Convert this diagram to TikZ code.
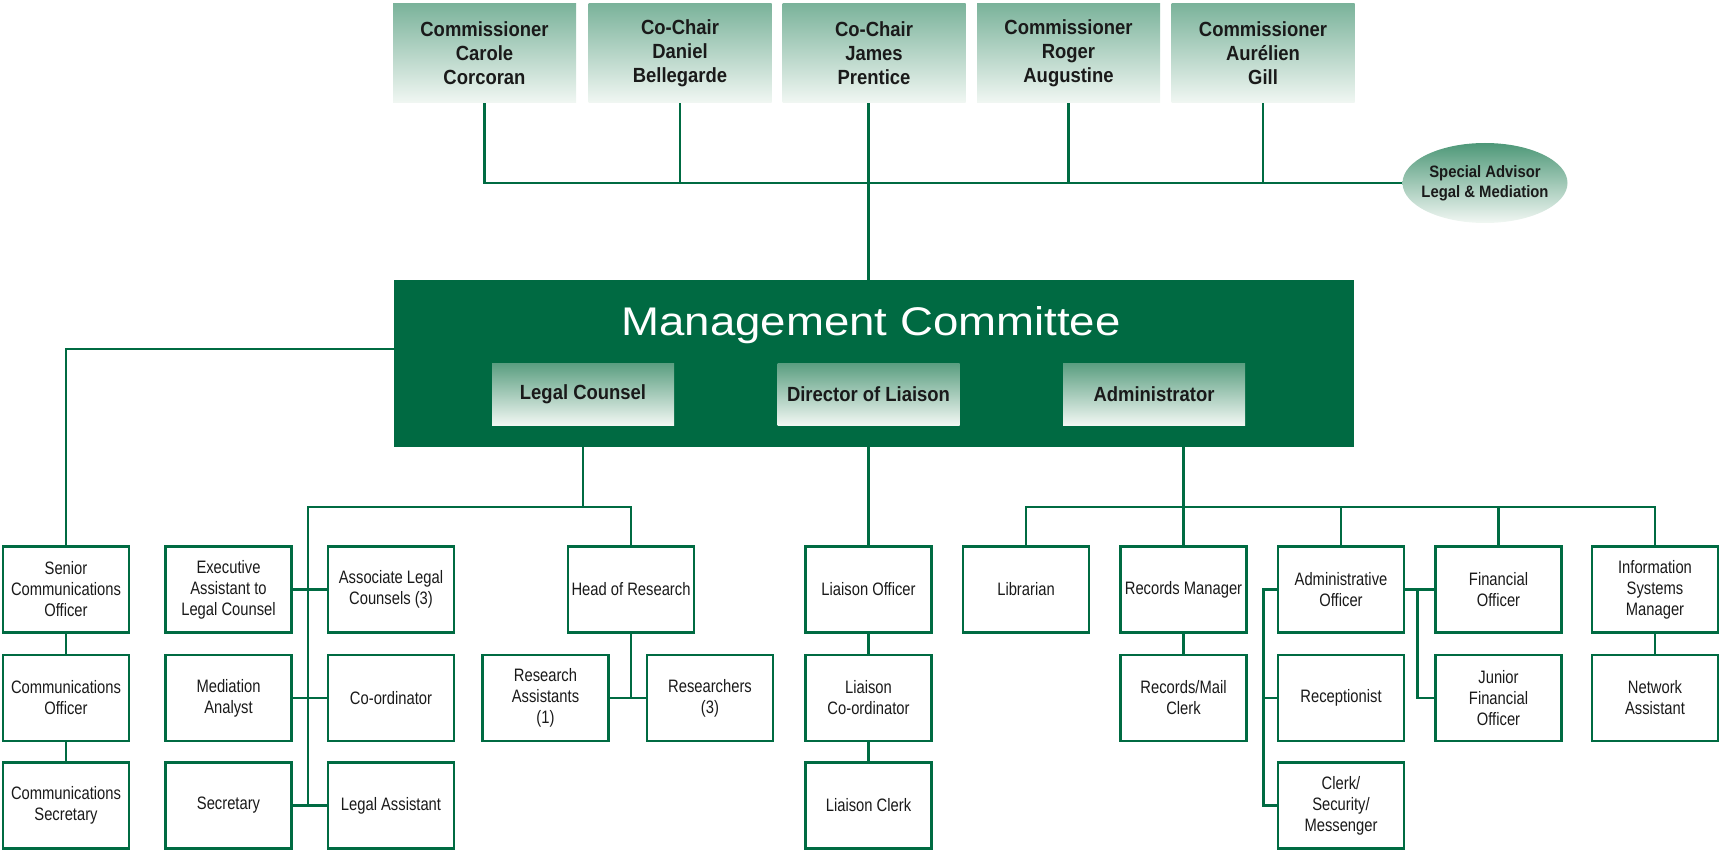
\documentclass[tikz,border=0pt]{standalone}
\usepackage{fontspec}
\setmainfont{Liberation Sans}
\newfontfamily\titlefont[FakeStretch=1.14]{Liberation Sans}
\newfontfamily\headfont[FakeStretch=0.9]{Liberation Sans}
\newfontfamily\boxfont[FakeStretch=0.82]{Liberation Sans}
\usetikzlibrary{shapes.geometric}
\definecolor{mcgreen}{HTML}{006A42}
\definecolor{linegreen}{HTML}{006B42}
\definecolor{topgreen}{HTML}{7BB39B}
\definecolor{subgreen}{HTML}{5A9E80}
\definecolor{ovalgreen}{HTML}{4E9878}
\definecolor{palegreen}{HTML}{F1F7F3}
\definecolor{inkgray}{HTML}{1A1A1A}

\begin{document}
\begin{tikzpicture}[x=1pt,y=-1pt,
  member/.style={rectangle, minimum width=183pt, minimum height=99pt, inner sep=0pt,
    top color=topgreen, bottom color=palegreen, align=center, text=inkgray,
    font=\headfont\bfseries\fontsize{20.5}{24}\selectfont},
  advisor/.style={ellipse, minimum width=165pt, minimum height=80pt, inner sep=0pt,
    top color=ovalgreen, bottom color=palegreen},
  advisortext/.style={inner sep=0pt, align=center, text=inkgray,
    font=\headfont\bfseries\fontsize{16.5}{20}\selectfont},
  mcbox/.style={rectangle, minimum width=960pt, minimum height=167pt, inner sep=0pt, fill=mcgreen},
  title/.style={text=white, inner sep=0pt, font=\titlefont\fontsize{40}{44}\selectfont},
  sub/.style={rectangle, minimum width=182pt, minimum height=62pt, inner sep=0pt,
    top color=subgreen, bottom color=palegreen, align=center, text=inkgray,
    font=\headfont\bfseries\fontsize{20.5}{24}\selectfont},
  staff/.style={rectangle, draw=linegreen, line width=2.8pt, fill=white,
    minimum width=126pt, minimum height=86pt, inner sep=0pt, align=center, text=inkgray,
    font=\boxfont\fontsize{18}{21}\selectfont},
  conn/.style={draw=linegreen, line width=2.6pt}
]
\useasboundingbox (0,0) rectangle (1720,853);

% Commission members and the special advisor
\node[member] (carole)   at (484.5,53.5) {Commissioner\\Carole\\Corcoran};
\node[member] (daniel)   at (680,53.5)   {Co-Chair\\Daniel\\Bellegarde};
\node[member] (james)    at (874,53.5)   {Co-Chair\\James\\Prentice};
\node[member] (roger)    at (1068.5,53.5){Commissioner\\Roger\\Augustine};
\node[member] (aurelien) at (1263,53.5)  {Commissioner\\Aurélien\\Gill};
\node[advisor] (advisor) at (1485,183)   {};
\node[advisortext] (advisorlabel) at (advisor) {Special Advisor\\Legal \& Mediation};

% Management committee with its three members
\node[mcbox] (mc) at (874,363.5) {};
\node[title, anchor=base] (mctitle) at (871,335) {Management Committee};
\node[sub] (legal)    at (583,394)    {Legal Counsel};
\node[sub] (director) at (868.5,394)  {Director of Liaison};
\node[sub] (admin)    at (1154,394)   {Administrator};

% Staff, row by row
\def\rowa{589.5}\def\rowb{698}\def\rowc{805.5}
\node[staff] (senior)   at (66,\rowa)    {Senior\\Communications\\Officer};
\node[staff] (commoff)  at (66,\rowb)    {Communications\\Officer};
\node[staff] (commsec)  at (66,\rowc)    {Communications\\Secretary};
\node[staff] (exec)     at (228.5,\rowa) {Executive\\Assistant to\\Legal Counsel};
\node[staff] (med)      at (228.5,\rowb) {Mediation\\Analyst};
\node[staff] (sec)      at (228.5,\rowc) {Secretary};
\node[staff] (assoc)    at (391,\rowa)   {Associate Legal\\Counsels (3)};
\node[staff] (coord)    at (391,\rowb)   {Co-ordinator};
\node[staff] (legalasst)at (391,\rowc)   {Legal Assistant};
\node[staff] (hor)      at (631,\rowa)   {Head of Research};
\node[staff] (ra)       at (545.5,\rowb) {Research\\Assistants\\(1)};
\node[staff] (res)      at (710,\rowb)   {Researchers\\(3)};
\node[staff] (liaison)  at (868.5,\rowa) {Liaison Officer};
\node[staff] (lcoord)   at (868.5,\rowb) {Liaison\\Co-ordinator};
\node[staff] (lclerk)   at (868.5,\rowc) {Liaison Clerk};
\node[staff] (librarian)at (1026,\rowa)  {Librarian};
\node[staff] (records)  at (1183.5,\rowa){Records Manager};
\node[staff] (recmail)  at (1183.5,\rowb){Records/Mail\\Clerk};
\node[staff] (adminoff) at (1341,\rowa)  {Administrative\\Officer};
\node[staff] (recep)    at (1341,\rowb)  {Receptionist};
\node[staff] (clerk)    at (1341,\rowc)  {Clerk/\\Security/\\Messenger};
\node[staff] (fin)      at (1498.5,\rowa){Financial\\Officer};
\node[staff] (jfin)     at (1498.5,\rowb){Junior\\Financial\\Officer};
\node[staff] (info)     at (1655,\rowa)  {Information\\Systems\\Manager};
\node[staff] (network)  at (1655,\rowb)  {Network\\Assistant};

% Commission bus
\draw[conn] (carole.south) |- (advisor.west);
\foreach \m in {daniel,roger,aurelien}
  \draw[conn] (\m.south) -- (\m.south |- advisor.west);
\draw[conn] (director.north |- james.south) -- (director.north |- mc.north);

% Communications
\draw[conn] ([yshift=14.5pt]mc.west) -| (senior.north);
\draw[conn] (senior) -- (commoff);
\draw[conn] (commoff) -- (commsec);

% Legal counsel
\coordinate (lbus) at (308,507);
\draw[conn] (legal.south |- mc.south) -- (legal.south |- lbus);
\draw[conn] (hor.north) |- (lbus) -- (lbus |- legalasst.west);
\draw[conn] (exec.east) -- (assoc.west);
\draw[conn] (med.east) -- (coord.west);
\draw[conn] (sec.east) -- (legalasst.west);
\draw[conn] (hor.south) |- (ra.east);
\draw[conn] (ra.east) -- (res.west);

% Liaison
\draw[conn] (director.south |- mc.south) -- (liaison.north);
\draw[conn] (liaison) -- (lcoord);
\draw[conn] (lcoord) -- (lclerk);

% Administration
\coordinate (abus) at (1183.5,507);
\draw[conn] (records.north |- mc.south) -- (records.north);
\draw[conn] (librarian.north) |- (abus) -| (info.north);
\draw[conn] (adminoff.north) -- (adminoff.north |- abus);
\draw[conn] (fin.north) -- (fin.north |- abus);
\draw[conn] (records) -- (recmail);
\draw[conn] (info) -- (network);
\coordinate (aspine) at ([xshift=-13pt]adminoff.west);
\draw[conn] (adminoff.west) -- (aspine) |- (clerk.west);
\draw[conn] (aspine |- recep.west) -- (recep.west);
\coordinate (fspine) at ([xshift=12pt]adminoff.east);
\draw[conn] (adminoff.east) -- (fin.west);
\draw[conn] (fspine) |- (jfin.west);
\end{tikzpicture}
\end{document}
